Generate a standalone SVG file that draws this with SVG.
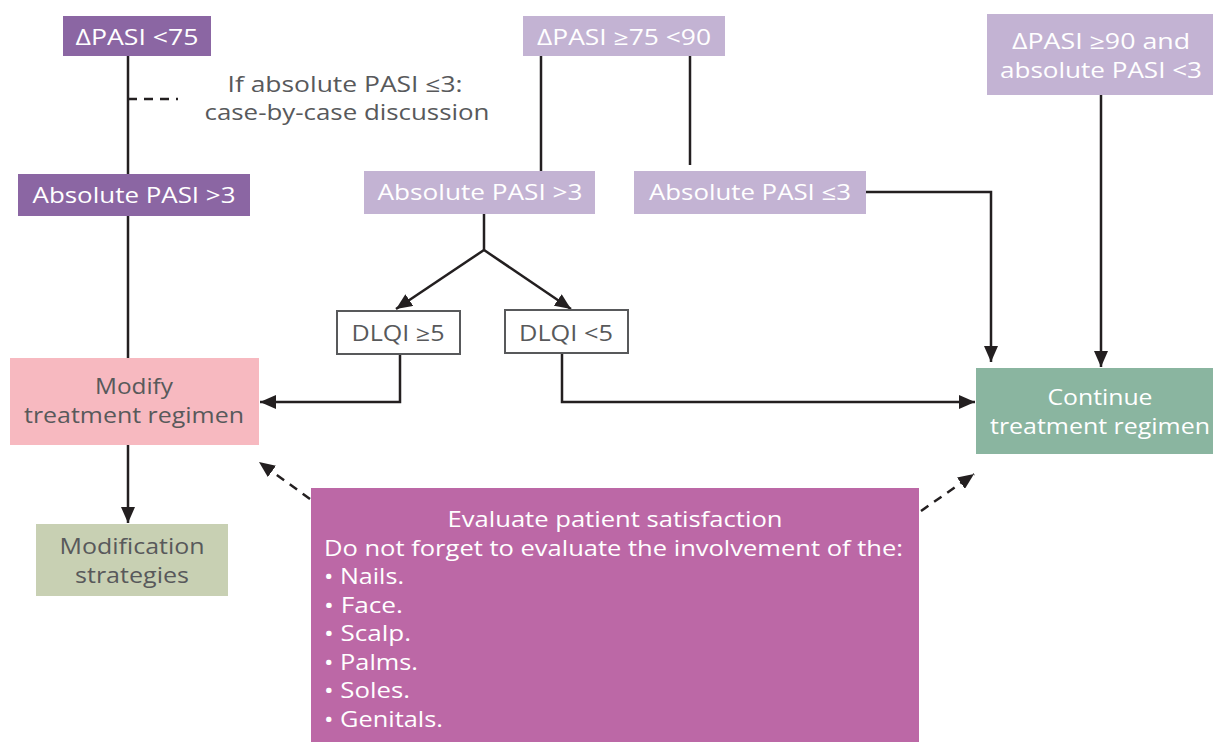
<svg xmlns="http://www.w3.org/2000/svg" width="1213" height="742" viewBox="0 0 1213 742">
<style>
text{font-family:"Open Sans","Liberation Sans",sans-serif;font-size:21px;}
.w{fill:#ffffff;}
.g{fill:#58595b;}
.c{text-anchor:middle;}
.ln{fill:none;stroke:#231f20;stroke-width:2.5;}
.dash{fill:none;stroke:#231f20;stroke-width:2.5;stroke-dasharray:9 7;}
</style>
<defs>
<marker id="a" viewBox="0 0 16 14" refX="16" refY="7" markerWidth="16" markerHeight="14" markerUnits="userSpaceOnUse" orient="auto">
<path d="M0,0 L16,7 L0,14 z" fill="#231f20"/>
</marker>
</defs>
<g id="connectors">
<line class="ln" x1="128" y1="56" x2="128" y2="358"/>
<line class="dash" x1="128" y1="99" x2="178" y2="99"/>
<line class="ln" x1="128" y1="445" x2="128" y2="523" marker-end="url(#a)"/>
<line class="ln" x1="541" y1="56" x2="541" y2="171"/>
<line class="ln" x1="690" y1="56" x2="690" y2="165"/>
<polyline class="ln" points="484,214 484,250"/>
<line class="ln" x1="484" y1="250" x2="396" y2="309" marker-end="url(#a)"/>
<line class="ln" x1="484" y1="250" x2="571" y2="309" marker-end="url(#a)"/>
<polyline class="ln" points="400,354 400,402 260,402" marker-end="url(#a)"/>
<polyline class="ln" points="562,353 562,402 975,402" marker-end="url(#a)"/>
<polyline class="ln" points="866,192 991,192 991,362" marker-end="url(#a)"/>
<line class="ln" x1="1101" y1="95" x2="1101" y2="367" marker-end="url(#a)"/>
<line class="dash" x1="310" y1="499" x2="259" y2="462" marker-end="url(#a)"/>
<line class="dash" x1="921" y1="511" x2="974" y2="474" marker-end="url(#a)"/>
</g>
<g id="n1"><rect x="63" y="16" width="148" height="40" fill="#8b66a3"/><text class="w c" x="137" y="45" textLength="123" lengthAdjust="spacingAndGlyphs">ΔPASI &lt;75</text></g>
<g id="n2"><rect x="523" y="16" width="202" height="40" fill="#c3b3d3"/><text class="w c" x="624" y="45" textLength="174" lengthAdjust="spacingAndGlyphs">ΔPASI ≥75 &lt;90</text></g>
<g id="n3"><rect x="987" y="14" width="226" height="81" fill="#c3b3d3"/><text class="w c" x="1101" y="49" textLength="178" lengthAdjust="spacingAndGlyphs">ΔPASI ≥90 and</text><text class="w c" x="1101" y="78" textLength="202" lengthAdjust="spacingAndGlyphs">absolute PASI &lt;3</text></g>
<g id="note"><text class="g c" x="345" y="92" textLength="235" lengthAdjust="spacingAndGlyphs">If absolute PASI ≤3:</text><text class="g c" x="347" y="120" textLength="285" lengthAdjust="spacingAndGlyphs">case-by-case discussion</text></g>
<g id="n4"><rect x="18" y="174" width="232" height="42" fill="#8b66a3"/><text class="w c" x="134" y="203" textLength="203" lengthAdjust="spacingAndGlyphs">Absolute PASI &gt;3</text></g>
<g id="n5"><rect x="364" y="171" width="231" height="43" fill="#c3b3d3"/><text class="w c" x="480" y="200" textLength="205" lengthAdjust="spacingAndGlyphs">Absolute PASI &gt;3</text></g>
<g id="n6"><rect x="634" y="171" width="232" height="43" fill="#c3b3d3"/><text class="w c" x="750" y="200" textLength="202" lengthAdjust="spacingAndGlyphs">Absolute PASI ≤3</text></g>
<g id="n7"><rect x="337" y="311" width="123" height="43" fill="#ffffff" stroke="#58595b" stroke-width="2"/><text class="g c" x="398" y="341" textLength="93" lengthAdjust="spacingAndGlyphs">DLQI ≥5</text></g>
<g id="n8"><rect x="505" y="310" width="123" height="43" fill="#ffffff" stroke="#58595b" stroke-width="2"/><text class="g c" x="566" y="341" textLength="94" lengthAdjust="spacingAndGlyphs">DLQI &lt;5</text></g>
<g id="n9"><rect x="10" y="358" width="249" height="87" fill="#f7b9c0"/><text class="g c" x="134" y="394" textLength="78" lengthAdjust="spacingAndGlyphs">Modify</text><text class="g c" x="134" y="423" textLength="220" lengthAdjust="spacingAndGlyphs">treatment regimen</text></g>
<g id="n10"><rect x="976" y="368" width="237" height="86" fill="#8ab5a0"/><text class="w c" x="1100" y="405" textLength="105" lengthAdjust="spacingAndGlyphs">Continue</text><text class="w c" x="1100" y="434" textLength="220" lengthAdjust="spacingAndGlyphs">treatment regimen</text></g>
<g id="n11"><rect x="36" y="524" width="192" height="72" fill="#c8d0b3"/><text class="g c" x="132" y="554" textLength="145" lengthAdjust="spacingAndGlyphs">Modification</text><text class="g c" x="132" y="583" textLength="114" lengthAdjust="spacingAndGlyphs">strategies</text></g>
<g id="n12"><rect x="311" y="488" width="608" height="254" fill="#bc68a6"/>
<text class="w c" x="615" y="527" textLength="335" lengthAdjust="spacingAndGlyphs">Evaluate patient satisfaction</text>
<text class="w" x="324" y="556" textLength="579" lengthAdjust="spacingAndGlyphs">Do not forget to evaluate the involvement of the:</text>
<text class="w" x="324" y="584" textLength="80" lengthAdjust="spacingAndGlyphs">• Nails.</text>
<text class="w" x="324" y="613" textLength="79" lengthAdjust="spacingAndGlyphs">• Face.</text>
<text class="w" x="324" y="641" textLength="87" lengthAdjust="spacingAndGlyphs">• Scalp.</text>
<text class="w" x="324" y="670" textLength="94" lengthAdjust="spacingAndGlyphs">• Palms.</text>
<text class="w" x="324" y="698" textLength="86" lengthAdjust="spacingAndGlyphs">• Soles.</text>
<text class="w" x="324" y="727" textLength="119" lengthAdjust="spacingAndGlyphs">• Genitals.</text>
</g>
</svg>
